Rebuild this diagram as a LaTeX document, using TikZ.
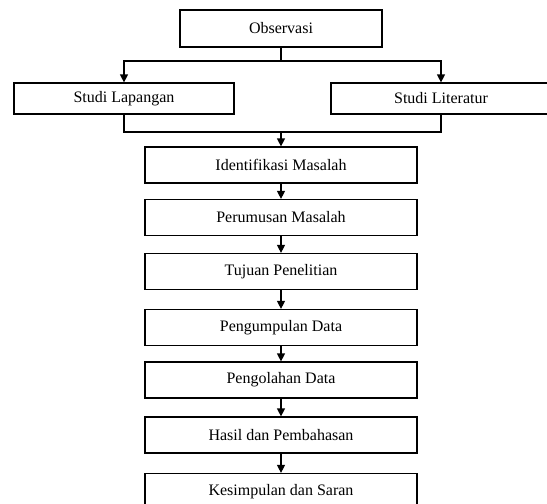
\documentclass[tikz,border=0pt]{standalone}
\usepackage{fontspec}
\setmainfont{Liberation Serif}
\usepackage{tikz}
\usetikzlibrary{arrows.meta,positioning}
\definecolor{fcInk}{HTML}{000000}
\tikzset{
  fc diagram/.style={font=\fontsize{16}{19}\selectfont, text=fcInk,
    line join=miter},
  fc box/.style={draw=fcInk, fill=white, line width=1.2pt,
    minimum height=36pt, inner sep=3pt, align=center},
  fc side box/.style={fc box, minimum width=220pt, minimum height=31pt},
  fc step box/.style={fc box, minimum width=272pt},
  fc line/.style={draw=fcInk, line width=1.2pt},
  fc arrow/.style={fc line, -{Triangle[length=8pt,width=8pt]}}
}
\begin{document}
\begin{tikzpicture}[fc diagram,x=1pt,y=-1pt]
\useasboundingbox (0,0) rectangle (547,504);
\node[fc box, minimum width=202pt, minimum height=37pt] (obs) at (281,28.5) {Observasi};
\node[fc side box] (lap) at (124,98.5) {Studi Lapangan};
\node[fc side box] (lit) at (441,98.5) {Studi Literatur};
% tahapan penelitian
\foreach \name/\ypos/\txt in {idn/165/Identifikasi Masalah,rum/217.5/Perumusan Masalah,
    tuj/271.5/Tujuan Penelitian,kum/327.5/Pengumpulan Data,olh/380/Pengolahan Data,
    hsl/435/Hasil dan Pembahasan,kes/491.5/Kesimpulan dan Saran}
  \node[fc step box] (\name) at (281,\ypos) {\txt};
% cabang observasi
\coordinate (split) at (obs.south |- 0,61);
\draw[fc line] (obs.south) -- (split);
\draw[fc arrow] (split) -| (lap.north);
\draw[fc arrow] (split) -| (lit.north);
% gabungan studi
\coordinate (join) at (idn.north |- 0,132);
\draw[fc line] (lap.south) |- (lit.south |- join) -- (lit.south);
\draw[fc arrow] (join) -- (idn.north);
\foreach \a/\b in {idn/rum,rum/tuj,tuj/kum,kum/olh,olh/hsl,hsl/kes}
  \draw[fc arrow] (\a) -- (\b);
\end{tikzpicture}
\end{document}
